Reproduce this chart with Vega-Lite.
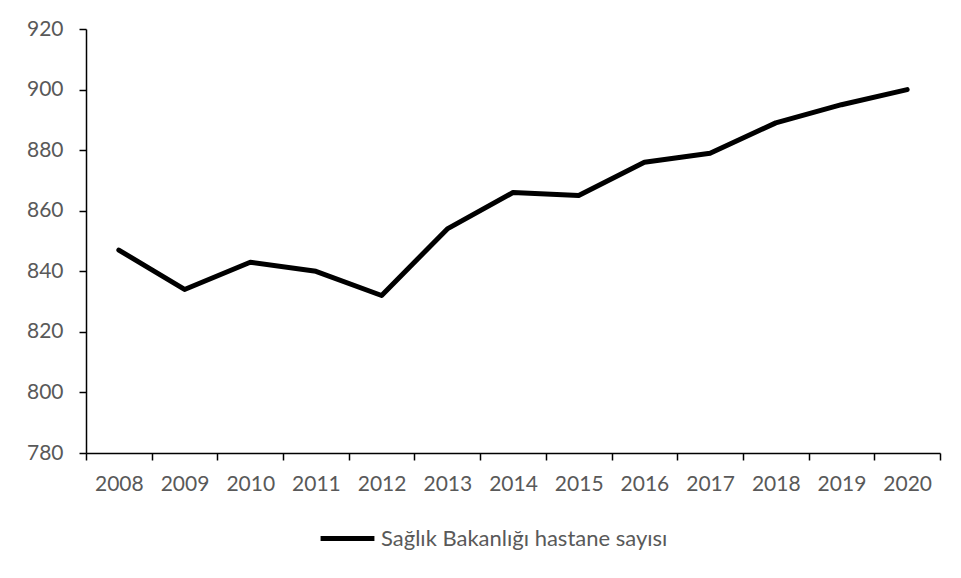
{
  "$schema": "https://vega.github.io/schema/vega-lite/v6.json",
  "width": 854,
  "height": 424,
  "autosize": {"type": "none"},
  "padding": {"left": 86, "top": 29, "right": 21, "bottom": 125},
  "background": "white",
  "config": {
    "view": {"stroke": null},
    "font": "Lato",
    "axis": {"labelFont": "Lato", "labelFontSize": 21, "labelColor": "#595959", "domainColor": "#000000", "tickColor": "#000000", "domainWidth": 1.5, "tickWidth": 1.5, "grid": false, "title": null}
  },
  "data": {
    "values": [
      {"year": 2008, "value": 847, "series": "Sağlık Bakanlığı hastane sayısı"},
      {"year": 2009, "value": 834, "series": "Sağlık Bakanlığı hastane sayısı"},
      {"year": 2010, "value": 843, "series": "Sağlık Bakanlığı hastane sayısı"},
      {"year": 2011, "value": 840, "series": "Sağlık Bakanlığı hastane sayısı"},
      {"year": 2012, "value": 832, "series": "Sağlık Bakanlığı hastane sayısı"},
      {"year": 2013, "value": 854, "series": "Sağlık Bakanlığı hastane sayısı"},
      {"year": 2014, "value": 866, "series": "Sağlık Bakanlığı hastane sayısı"},
      {"year": 2015, "value": 865, "series": "Sağlık Bakanlığı hastane sayısı"},
      {"year": 2016, "value": 876, "series": "Sağlık Bakanlığı hastane sayısı"},
      {"year": 2017, "value": 879, "series": "Sağlık Bakanlığı hastane sayısı"},
      {"year": 2018, "value": 889, "series": "Sağlık Bakanlığı hastane sayısı"},
      {"year": 2019, "value": 895, "series": "Sağlık Bakanlığı hastane sayısı"},
      {"year": 2020, "value": 900, "series": "Sağlık Bakanlığı hastane sayısı"}
    ]
  },
  "mark": {"type": "line", "strokeWidth": 5, "strokeCap": "round", "strokeJoin": "round"},
  "encoding": {
    "x": {
      "field": "year",
      "type": "quantitative",
      "scale": {"domain": [2007.5, 2020.5], "nice": false, "zero": false},
      "axis": {
        "values": [2007.5, 2008.5, 2009.5, 2010.5, 2011.5, 2012.5, 2013.5, 2014.5, 2015.5, 2016.5, 2017.5, 2018.5, 2019.5, 2020.5],
        "labelExpr": "datum.value < 2020 ? format(datum.value + 0.5, 'd') : ''",
        "labelOffset": 32.85,
        "tickSize": 7,
        "labelPadding": 13,
        "labelFlush": false,
        "labelOverlap": false
      }
    },
    "y": {
      "field": "value",
      "type": "quantitative",
      "scale": {"domain": [780, 920], "nice": false, "zero": false},
      "axis": {
        "values": [780, 800, 820, 840, 860, 880, 900, 920],
        "tickSize": 7,
        "labelPadding": 16
      }
    },
    "color": {
      "field": "series",
      "type": "nominal",
      "scale": {"range": ["#000000"]},
      "legend": {
        "title": null,
        "orient": "none",
        "legendX": 232,
        "legendY": 480,
        "symbolType": "stroke",
        "symbolSize": 2900,
        "symbolStrokeWidth": 5,
        "labelFont": "Lato",
        "labelFontSize": 22,
        "labelColor": "#595959",
        "labelOffset": 4,
        "labelLimit": 500
      }
    }
  }
}
